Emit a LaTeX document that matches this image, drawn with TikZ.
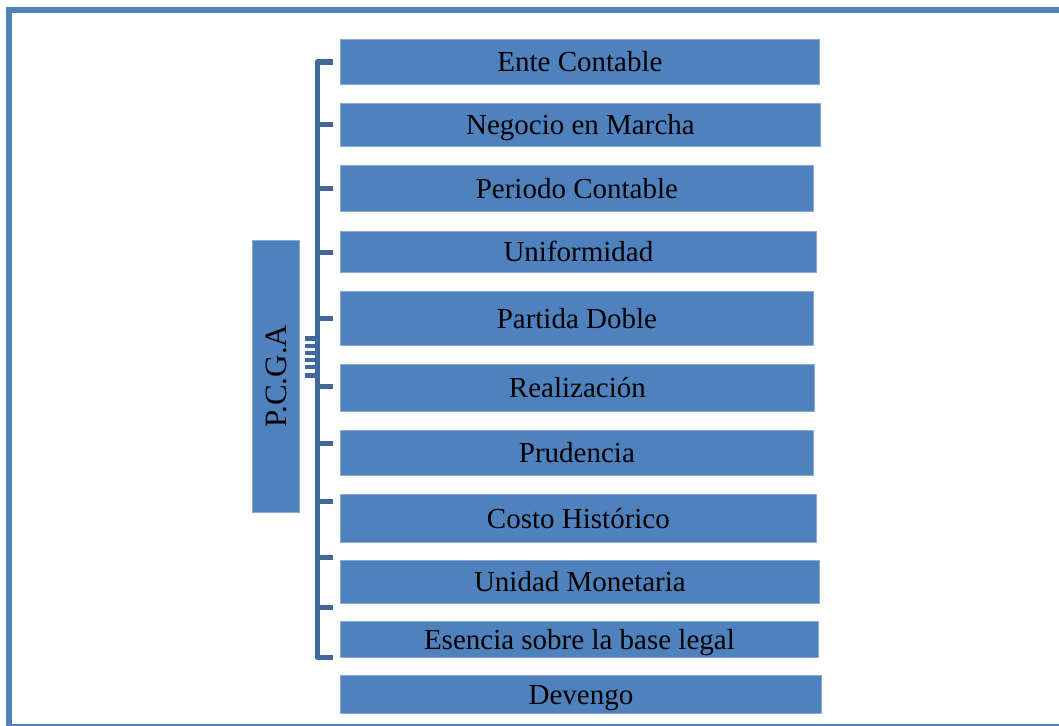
\documentclass[tikz,border=0pt]{standalone}
\usepackage{fontspec}
\setmainfont{Liberation Serif}
\definecolor{boxblue}{HTML}{4F81BD}
\definecolor{boxedge}{HTML}{8AA8D6}
\definecolor{brk}{HTML}{41689B}
\tikzset{
  pbox/.style={draw=boxedge, line width=0.8pt, fill=boxblue, inner sep=0pt, anchor=north west,
    font=\fontsize{29}{34}\selectfont, text=black, text height=19.5pt, text depth=0pt},
  brkline/.style={draw=brk, line width=5pt},
  frame/.style={draw=boxblue, line width=6pt}
}
\begin{document}
\begin{tikzpicture}[x=1pt,y=-1pt]
\useasboundingbox (0,0) rectangle (1059,725);
\clip (0,0) rectangle (1059,725);
\draw[frame] (9,10) rectangle (1065,727);
% left title box
\node[pbox, minimum width=47pt, minimum height=272pt] (pcga) at (252,240) {};
\node[rotate=90, font=\fontsize{31}{36}\selectfont, text=black, inner sep=0pt] (pcgat) at (276,376) {P.C.G.A};
% item boxes
\node[pbox, minimum width=479pt, minimum height=45pt] (b1) at (340,39) {Ente Contable};
\node[pbox, minimum width=480pt, minimum height=43pt] (b2) at (340,103) {Negocio en Marcha};
\node[pbox, minimum width=473pt, minimum height=46pt] (b3) at (340,165) {Periodo Contable};
\node[pbox, minimum width=476pt, minimum height=41pt] (b4) at (340,231) {Uniformidad};
\node[pbox, minimum width=473pt, minimum height=54pt] (b5) at (340,291) {Partida Doble};
\node[pbox, minimum width=474pt, minimum height=47pt] (b6) at (340,364) {Realización};
\node[pbox, minimum width=473pt, minimum height=45pt] (b7) at (340,430) {Prudencia};
\node[pbox, minimum width=476pt, minimum height=48pt] (b8) at (340,494) {Costo Histórico};
\node[pbox, minimum width=479pt, minimum height=43pt] (b9) at (340,560) {Unidad Monetaria};
\node[pbox, minimum width=478pt, minimum height=36pt] (b10) at (340,621) {Esencia sobre la base legal};
\node[pbox, minimum width=481pt, minimum height=38pt] (b11) at (340,675) {Devengo};
% bracket
\coordinate (btop) at (333,62);
\coordinate (bbot) at (333,657);
\draw[brkline, line join=round] (btop) -- (317,62) -- (317,657) -- (bbot);
\foreach \y in {124,188,252,318,386,443,501,557,607} {
  \draw[brkline] (317,\y) -- (333,\y);
}
% comb at the middle of the bracket
\foreach \y/\h in {336/5,344/4,351/4,358/4,365/4,373/5} {
  \fill[brk] (305,\y) rectangle (318,\y+\h);
}
\end{tikzpicture}
\end{document}
